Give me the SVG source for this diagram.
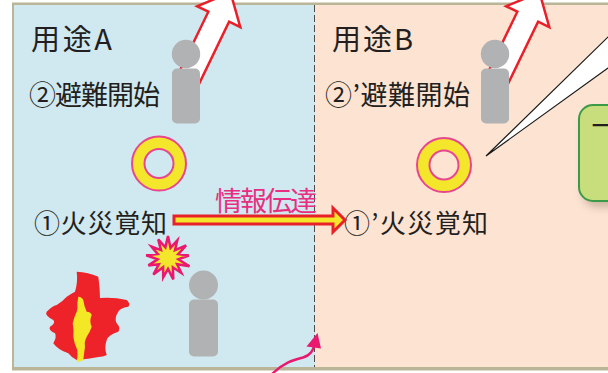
<svg xmlns="http://www.w3.org/2000/svg" width="608" height="373" viewBox="0 0 608 373">
  <style>
    .lbl { font-family: "Noto Sans CJK JP", "Noto Sans", sans-serif; font-size: 27px; font-weight: 400; fill: #231f20; }
    .title { font-size: 29px; }
    .small { font-size: 26px; }
    .pink { fill: #e72e81; }
    .person { fill: #b1b2b4; }
    .exit { fill: #ffffff; stroke: #e8202a; stroke-width: 2.5; stroke-linejoin: miter; }
    .ring { fill: #f4e62a; stroke: #e8468f; stroke-width: 2; }
  </style>
  <defs>
    <filter id="soft" x="-20%" y="-20%" width="140%" height="160%">
      <feGaussianBlur stdDeviation="4"/>
    </filter>
    <!-- evacuation arrow leaving upward -->
    <polygon id="exitArrow" points="174.9,81 195.6,91 229.1,21.7 240.3,27.1 230.5,-7.6 197.1,6.3 208.35,11.7"/>
  </defs>

  <!-- floor areas -->
  <g id="floor">
    <rect x="12" y="2.5" width="600" height="368" fill="#bbb598"/>
    <rect x="14" y="5" width="301" height="362" fill="#d0e8ef"/>
    <rect x="315" y="5" width="295" height="362" fill="#fde3d2"/>
  </g>

  <!-- boundary between the two uses -->
  <g id="divider">
    <line x1="314.5" y1="5" x2="314.5" y2="367" stroke="#4d4d4d" stroke-width="1" stroke-dasharray="7 3"/>
  </g>

  <!-- use A -->
  <g id="useA">
    <text class="lbl title" x="31" y="50" textLength="81" lengthAdjust="spacing">用途A</text>
  </g>
  <g id="evacA">
    <use href="#exitArrow" class="exit"/>
    <circle class="person" cx="186" cy="54" r="14.2"/>
    <rect class="person" x="172" y="68.5" width="28" height="55" rx="5"/>
    <text class="lbl" x="29" y="105" textLength="131" lengthAdjust="spacing">②避難開始</text>
  </g>
  <g id="alarmA">
    <circle class="ring" cx="159" cy="163.5" r="27"/>
    <circle cx="159" cy="163.5" r="14.5" fill="#d0e8ef" stroke="#e8468f" stroke-width="2"/>
  </g>
  <g id="detectA">
    <text class="lbl small" x="34" y="233" textLength="133" lengthAdjust="spacing">①火災覚知</text>
  </g>
  <g id="burst">
    <polygon points="168,236 170.5,247.8 177.3,240.3 175,250.1 186.1,245.5 178.3,254.1 188.8,255.5 178.4,259.3 189.5,266.2 177.1,264.2 181.3,273 172.9,267.3 173.3,279.4 168,269 163.2,277.4 163.1,267.3 153.4,274.5 158.9,264.2 148.4,265.4 157.6,259.3 146.2,255.3 157.7,254.1 151.5,246.6 161,250.1 158.2,239.4 165.4,247.3" fill="#f4e62a" stroke="#e8196e" stroke-width="2.5" stroke-linejoin="miter"/>
  </g>
  <g id="fire">
    <path d="M76.7,271.7 Q88,272 98.3,276.7 Q100,288 100,298 Q114,297 126.7,300 Q131,304 128.3,306.7 Q120,308 118.3,311.7 Q114,318 116.7,323.3 Q121,328 118.3,331.7 Q108,335 106.7,340 Q104,348 106.7,355 Q103,357 100,356.7 Q88,359 76.7,360 Q71,357 68.3,353.3 Q58,350 53.3,343.3 Q57,337 55,333.3 Q48,330 50,326.7 Q56,323 53.3,320 Q44,315 46.7,311.7 Q52,306 56.7,305 Q63,301 66.7,296.7 Q72,293 75,291.7 Q78,282 76.7,271.7 Z" fill="#ee2229"/>
    <path d="M78.3,296.7 Q82,297 83.3,300 Q84,306 86.7,311.7 Q91,312 91.7,315 Q89,321 91.7,326.7 Q90,332 86.7,336.7 Q84,342 85,346.7 Q84,354 83.3,360 Q80,362 76.7,361.7 Q78,356 77.3,350 Q74,343 73.3,336.7 Q74,330 72.7,323.3 Q74,317 76.7,311.7 Q78,308 77.3,303.3 Z" fill="#f4e726"/>
  </g>
  <g id="occupantA">
    <circle class="person" cx="203.5" cy="285" r="14.5"/>
    <rect class="person" x="189" y="299.5" width="29" height="57" rx="5"/>
  </g>

  <!-- use B -->
  <g id="useB">
    <text class="lbl title" x="332" y="50" textLength="81" lengthAdjust="spacing">用途B</text>
  </g>
  <g id="evacB">
    <use href="#exitArrow" class="exit" transform="translate(309,0)"/>
    <circle class="person" cx="495" cy="54" r="14.2"/>
    <rect class="person" x="481" y="68.5" width="28" height="55" rx="5"/>
    <text class="lbl" x="325" y="105" textLength="145" lengthAdjust="spacing">②’避難開始</text>
  </g>
  <g id="alarmB">
    <circle class="ring" cx="444" cy="165" r="27"/>
    <circle cx="444" cy="165" r="14.5" fill="#fde3d2" stroke="#e8468f" stroke-width="2"/>
  </g>
  <g id="detectB">
    <text class="lbl small" x="344" y="233" textLength="144" lengthAdjust="spacing">①’火災覚知</text>
  </g>

  <!-- callout box -->
  <g id="callout">
    <polygon points="486,156 620,25.3 620,59.3" fill="#ffffff" stroke="#1a1a1a" stroke-width="1.2" stroke-linejoin="miter"/>
    <rect x="583" y="111" width="60" height="96" rx="14" fill="#6b5a40" opacity="0.35" filter="url(#soft)"/>
    <rect x="579" y="105" width="60" height="96" rx="14" fill="#c8de7c" stroke="#3b9a48" stroke-width="2"/>
    <text class="lbl" x="591.5" y="135.5" font-size="24px">一</text>
  </g>

  <!-- connectors -->
  <g id="connectors">
    <!-- information transfer from A to B -->
    <polygon points="174,216 333,216 333,208 345,220 333,232 333,224 174,224" fill="#f4e62a" stroke="#e8202a" stroke-width="3" stroke-linejoin="miter"/>
    <text class="lbl pink" x="215" y="211" font-size="26px" textLength="102" lengthAdjust="spacing">情報伝達</text>
    <!-- spread toward use B -->
    <path d="M271,375 C283,363 293,360 303,357.5 C311,355 313,350 314.5,345" fill="none" stroke="#e8196e" stroke-width="2.5" stroke-linecap="round"/>
    <polygon points="317.5,333 306.5,346.5 321,348.5" fill="#e8196e"/>
  </g>
</svg>
